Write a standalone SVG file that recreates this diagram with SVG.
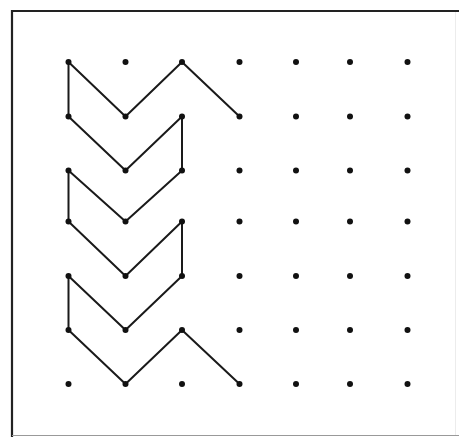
<svg xmlns="http://www.w3.org/2000/svg" width="459" height="437" viewBox="0 0 459 437">
<style>
.dot{fill:#111}
.ln{stroke:#1a1a1a;stroke-width:2;fill:none;stroke-linejoin:round;stroke-linecap:round}
</style>
<rect x="0" y="0" width="459" height="437" fill="#fff"/>
<g id="frame">
<line x1="11" y1="11" x2="459" y2="11" stroke="#222" stroke-width="2.2"/>
<line x1="12" y1="10" x2="12" y2="437" stroke="#222" stroke-width="2.2"/>
<line x1="12" y1="435.5" x2="459" y2="435.5" stroke="#999" stroke-width="1.2"/>
<line x1="455.5" y1="12" x2="455.5" y2="435" stroke="#ececec" stroke-width="1"/>
</g>
<g id="connectors">
<polyline class="ln" points="68.5,116.5 68.5,62 125.5,116.5 182,62 239.5,116.5"/>
<polyline class="ln" points="68.5,116.5 125.5,170.5 182,116.5 182,170.5"/>
<polyline class="ln" points="68.5,221.5 68.5,170.5 125.5,221.5 182,170.5"/>
<polyline class="ln" points="68.5,221.5 125.5,276 182,221.5 182,276"/>
<polyline class="ln" points="68.5,330 68.5,276 125.5,330 182,276"/>
<polyline class="ln" points="68.5,330 125.5,384 182,330 239.5,384"/>
</g>
<g id="dots">
<g id="r0"><circle class="dot" cx="68.5" cy="62" r="3"/><circle class="dot" cx="125.5" cy="62" r="3"/><circle class="dot" cx="182" cy="62" r="3"/><circle class="dot" cx="239.5" cy="62" r="3"/><circle class="dot" cx="296" cy="62" r="3"/><circle class="dot" cx="350" cy="62" r="3"/><circle class="dot" cx="407.5" cy="62" r="3"/></g>
<g id="r1"><circle class="dot" cx="68.5" cy="116.5" r="3"/><circle class="dot" cx="125.5" cy="116.5" r="3"/><circle class="dot" cx="182" cy="116.5" r="3"/><circle class="dot" cx="239.5" cy="116.5" r="3"/><circle class="dot" cx="296" cy="116.5" r="3"/><circle class="dot" cx="350" cy="116.5" r="3"/><circle class="dot" cx="407.5" cy="116.5" r="3"/></g>
<g id="r2"><circle class="dot" cx="68.5" cy="170.5" r="3"/><circle class="dot" cx="125.5" cy="170.5" r="3"/><circle class="dot" cx="182" cy="170.5" r="3"/><circle class="dot" cx="239.5" cy="170.5" r="3"/><circle class="dot" cx="296" cy="170.5" r="3"/><circle class="dot" cx="350" cy="170.5" r="3"/><circle class="dot" cx="407.5" cy="170.5" r="3"/></g>
<g id="r3"><circle class="dot" cx="68.5" cy="221.5" r="3"/><circle class="dot" cx="125.5" cy="221.5" r="3"/><circle class="dot" cx="182" cy="221.5" r="3"/><circle class="dot" cx="239.5" cy="221.5" r="3"/><circle class="dot" cx="296" cy="221.5" r="3"/><circle class="dot" cx="350" cy="221.5" r="3"/><circle class="dot" cx="407.5" cy="221.5" r="3"/></g>
<g id="r4"><circle class="dot" cx="68.5" cy="276" r="3"/><circle class="dot" cx="125.5" cy="276" r="3"/><circle class="dot" cx="182" cy="276" r="3"/><circle class="dot" cx="239.5" cy="276" r="3"/><circle class="dot" cx="296" cy="276" r="3"/><circle class="dot" cx="350" cy="276" r="3"/><circle class="dot" cx="407.5" cy="276" r="3"/></g>
<g id="r5"><circle class="dot" cx="68.5" cy="330" r="3"/><circle class="dot" cx="125.5" cy="330" r="3"/><circle class="dot" cx="182" cy="330" r="3"/><circle class="dot" cx="239.5" cy="330" r="3"/><circle class="dot" cx="296" cy="330" r="3"/><circle class="dot" cx="350" cy="330" r="3"/><circle class="dot" cx="407.5" cy="330" r="3"/></g>
<g id="r6"><circle class="dot" cx="68.5" cy="384" r="3"/><circle class="dot" cx="125.5" cy="384" r="3"/><circle class="dot" cx="182" cy="384" r="3"/><circle class="dot" cx="239.5" cy="384" r="3"/><circle class="dot" cx="296" cy="384" r="3"/><circle class="dot" cx="350" cy="384" r="3"/><circle class="dot" cx="407.5" cy="384" r="3"/></g>
</g>
</svg>
